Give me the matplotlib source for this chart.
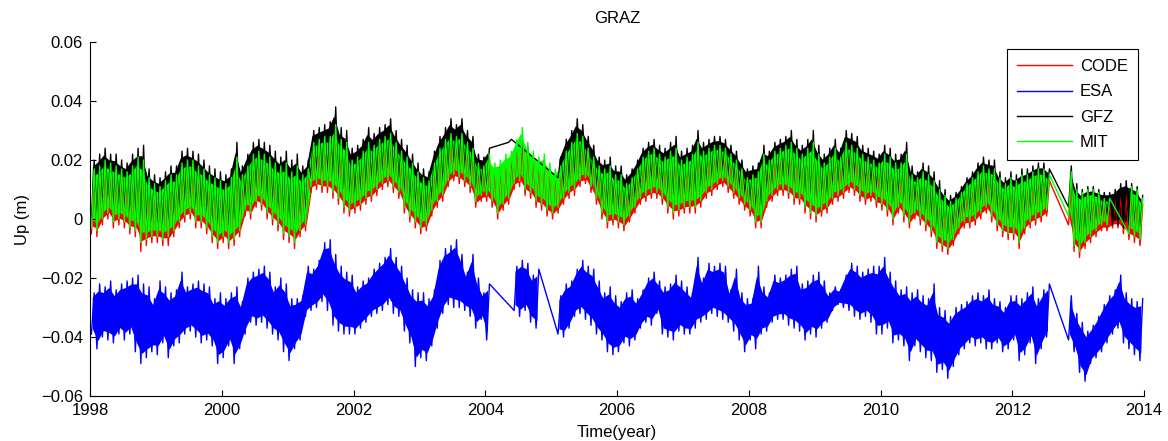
import matplotlib
matplotlib.use('Agg')
import matplotlib.pyplot as plt
from matplotlib.ticker import FuncFormatter
from matplotlib.lines import Line2D

N = None
start_year = 1998
# Monthly envelopes (mm), Jan 1998 .. Dec 2013, one row per year; None = no data
code_lo = [
    -5, -6, -2, 0, -3, -2, -3, -5, -6, -11, -9, -8,
    -8, -9, -9, -6, -3, -1, 0, -3, -3, -5, -8, -10,
    -8, -10, -9, -6, 1, 0, 4, 3, 0, -2, -4, -7,
    -8, -10, -6, -4, 9, 10, 9, 9, 7, 5, 2, 1,
    2, 3, 5, 6, 8, 10, 11, 9, 7, 2, -1, -3,
    -5, -4, 1, 4, 6, 11, 13, 12, 11, 9, 4, 6,
    6, 4, 0, 3, 5, 10, 11, 8, 7, 4, 3, 1,
    0, 2, 5, 7, 8, 11, 12, 9, 5, 0, -3, -2,
    -3, -4, -1, 2, 5, 6, 7, 7, 5, 2, 0, 1,
    2, 2, 2, 4, 7, 8, 10, 11, 9, 7, 5, 3,
    1, -3, -3, 4, 6, 8, 8, 7, 5, 5, 2, 0,
    -1, 1, 2, 5, 6, 7, 9, 8, 6, 5, 6, 4,
    3, 1, -2, 2, -1, -3, 0, -2, -4, -6, -10, -11,
    -12, -9, -5, -3, -3, -2, 0, 2, -1, -4, -6, -7,
    -7, -10, -5, -3, -2, -1, 1, N, N, N, -2, -11,
    -13, -10, -8, -6, -4, -4, -3, -3, -5, -7, -8, -9,
]
code_hi = [
    15, 16, 18, 17, 16, 15, 14, 16, 19, 18, 12, 10,
    9, 11, 13, 13, 17, 18, 18, 16, 15, 13, 12, 11,
    10, 12, 19, 13, 16, 20, 21, 20, 19, 17, 16, 17,
    14, 16, 13, 15, 24, 25, 26, 26, 30, 25, 24, 18,
    19, 21, 24, 23, 25, 26, 27, 24, 21, 19, 17, 14,
    12, 11, 17, 22, 25, 27, 26, 27, 24, 22, 17, 16,
    20, 17, 18, 20, 21, 25, 26, 24, 21, 19, 20, 17,
    15, 16, 21, 24, 27, 26, 22, 19, 16, 15, 16, 13,
    13, 10, 12, 15, 19, 21, 22, 20, 19, 21, 22, 18,
    19, 20, 24, 21, 22, 23, 23, 22, 20, 18, 15, 12,
    13, 14, 20, 18, 21, 22, 23, 24, 22, 20, 22, 24,
    20, 17, 19, 22, 19, 24, 23, 22, 20, 19, 18, 17,
    20, 19, 17, 17, 20, 13, 12, 14, 13, 11, 8, 6,
    4, 5, 7, 10, 12, 14, 16, 15, 15, 12, 10, 12,
    11, 13, 13, 14, 15, 15, 13, N, N, N, 14, 8,
    7, 8, 8, 7, 5, 5, 7, 8, 9, 9, 8, 5,
]
esa_lo = [
    -39, -44, -40, -41, -42, -39, -41, -39, -45, -49, -47, -45,
    -46, -42, -47, -43, -42, -39, -38, -40, -42, -41, -43, -49,
    -47, -43, -49, -44, -39, -35, -36, -35, -37, -39, -41, -45,
    -48, -44, -41, -33, -31, -30, -28, -31, -36, -38, -39, -39,
    -39, -37, -35, -33, -32, -31, -29, -32, -33, -38, -42, -50,
    -47, -48, -43, -37, -32, -29, -30, -30, -31, -33, -37, -34,
    -41, N, N, N, N, -31, -33, -31, -35, -37, N, N,
    N, -39, -40, -37, -33, -32, -34, -36, -39, -41, -45, -46,
    -45, -42, -43, -41, -37, -35, -36, -32, -39, -40, -41, -38,
    -39, -39, -37, -35, -34, -32, -33, -34, -35, -38, -41, -45,
    -41, -44, -39, -38, -35, -34, -34, -36, -37, -38, -41, -39,
    -40, -37, -35, -31, -29, -30, -31, -33, -34, -33, -35, -39,
    -39, -37, -42, -41, -43, -48, -43, -45, -47, -48, -52, -51,
    -54, -50, -46, -44, -42, -43, -42, -44, -44, -42, -45, -44,
    -41, -48, -46, -42, -49, -44, -40, N, N, N, -41, -45,
    -52, -55, -49, -47, -45, -42, -39, -37, -42, -44, -46, -48,
]
esa_hi = [
    -25, -22, -23, -21, -24, -22, -21, -20, -19, -22, -23, -27,
    -21, -23, -25, -24, -18, -23, -22, -21, -22, -23, -27, -25,
    -27, -25, -23, -28, -20, -18, -17, -16, -18, -23, -20, -22,
    -27, -27, -26, -16, -17, -14, -8, -7, -12, -16, -18, -19,
    -23, -21, -20, -17, -15, -13, -10, -13, -16, -20, -24, -25,
    -25, -27, -24, -14, -10, -9, -7, -12, -18, -12, -20, -25,
    -22, N, N, N, N, -16, -14, -15, -19, -17, N, N,
    N, -26, -22, -21, -17, -14, -16, -17, -21, -25, -23, -26,
    -28, -25, -24, -27, -24, -20, -18, -21, -23, -22, -19, -21,
    -23, -25, -13, -20, -15, -16, -15, -16, -24, -17, -25, -27,
    -27, -16, -23, -25, -19, -20, -19, -17, -16, -22, -21, -19,
    -18, -21, -25, -23, -24, -19, -15, -16, -18, -17, -16, -16,
    -13, -18, -21, -24, -23, -25, -24, -26, -27, -22, -30, -31,
    -33, -30, -29, -28, -26, -25, -26, -24, -27, -28, -30, -26,
    -26, -27, -25, -23, -27, -24, -22, N, N, N, -26, -32,
    -35, -38, -36, -33, -29, -26, -24, -19, -25, -27, -28, -27,
]
gfz_lo = [
    0, -1, 3, 5, 2, 3, 2, 0, -1, -5, -4, -3,
    -3, -4, -3, -1, 2, 4, 5, 2, 2, 0, -3, -5,
    -3, -5, -4, -1, 6, 5, 9, 8, 5, 3, 1, -2,
    -3, -5, -1, 1, 14, 15, 14, 14, 12, 10, 7, 6,
    7, 8, 10, 11, 13, 15, 16, 14, 12, 7, 4, 2,
    0, 1, 6, 9, 11, 16, 18, 17, 16, 14, 9, 11,
    10, N, N, N, 26, N, N, N, N, N, N, N,
    N, 14, 10, 12, 13, 16, 17, 14, 10, 5, 2, 3,
    2, 1, 4, 7, 10, 11, 12, 12, 10, 7, 5, 6,
    7, 7, 7, 9, 12, 13, 15, 16, 14, 12, 10, 8,
    6, 2, 2, 9, 11, 13, 13, 12, 10, 10, 7, 5,
    4, 6, 7, 10, 11, 12, 14, 13, 11, 10, 11, 9,
    8, 6, 3, 7, 4, 2, 5, 3, 1, -1, -5, -6,
    -7, -4, 0, 2, 2, 3, 5, 7, 4, 1, -1, -2,
    -2, -5, 0, 2, 3, 4, 6, N, N, N, 4, -6,
    -8, -5, -3, -1, 1, 1, -2, -2, -3, -2, -3, -4,
]
gfz_hi = [
    20, 22, 24, 22, 22, 20, 19, 22, 24, 25, 17, 15,
    14, 16, 18, 18, 23, 24, 23, 22, 20, 18, 17, 16,
    15, 17, 26, 18, 22, 26, 27, 26, 25, 23, 21, 23,
    20, 22, 18, 20, 30, 31, 32, 33, 38, 31, 30, 24,
    25, 27, 31, 29, 31, 32, 34, 30, 27, 25, 22, 19,
    17, 16, 23, 28, 31, 34, 32, 34, 30, 28, 22, 21,
    24, N, N, N, 27, N, N, N, N, N, N, N,
    N, 21, 27, 30, 34, 32, 28, 25, 21, 20, 21, 18,
    18, 15, 17, 20, 24, 26, 27, 25, 24, 26, 28, 23,
    24, 25, 30, 26, 27, 28, 28, 27, 25, 23, 20, 17,
    18, 19, 25, 23, 26, 27, 28, 30, 27, 25, 27, 30,
    25, 22, 24, 27, 24, 30, 29, 28, 25, 24, 23, 22,
    25, 24, 22, 22, 26, 18, 16, 19, 18, 16, 13, 10,
    8, 9, 11, 14, 16, 19, 21, 20, 20, 16, 14, 16,
    15, 17, 17, 18, 19, 19, 17, N, N, N, 18, 12,
    10, 11, 11, 10, 9, 9, 10, 12, 13, 12, 11, 8,
]
mit_lo = [
    -3, -4, 0, 2, -1, 0, -1, -3, -4, -8, -7, -6,
    -6, -7, -6, -4, -1, 1, 2, -1, -1, -3, -6, -8,
    -6, -8, -7, -4, 3, 2, 6, 5, 2, 0, -2, -5,
    -6, -8, -4, -2, 11, 12, 11, 11, 9, 7, 4, 3,
    4, 5, 7, 8, 10, 12, 13, 11, 9, 4, 1, -1,
    -3, -2, 3, 6, 8, 13, 15, 14, 13, 11, 6, 8,
    8, 6, 2, 5, 7, 12, 13, 10, 9, 6, 5, 3,
    2, 4, 7, 9, 10, 13, 14, 11, 7, 2, -1, 0,
    -1, -2, 1, 4, 7, 8, 9, 9, 7, 4, 2, 3,
    4, 4, 4, 6, 9, 10, 12, 13, 11, 9, 7, 5,
    3, -1, -1, 6, 8, 10, 10, 9, 7, 7, 4, 2,
    1, 3, 4, 7, 8, 9, 11, 10, 8, 7, 8, 6,
    5, 3, 0, 4, 1, -1, 2, 0, -2, -4, -8, -9,
    -10, -7, -3, -1, -1, 0, 2, 4, 1, -2, -4, -5,
    -5, -8, -3, -1, 0, 1, 3, N, N, N, 1, -9,
    -11, -8, -6, -4, -2, -2, N, N, N, -5, -6, -7,
]
mit_hi = [
    17, 18, 20, 19, 18, 17, 16, 18, 21, 20, 14, 12,
    11, 13, 15, 15, 19, 20, 20, 18, 17, 15, 14, 13,
    12, 14, 21, 15, 18, 22, 23, 22, 21, 19, 18, 19,
    16, 18, 15, 17, 26, 27, 28, 28, 32, 27, 26, 20,
    21, 23, 26, 25, 27, 28, 29, 26, 23, 21, 19, 16,
    14, 13, 19, 24, 27, 29, 28, 29, 26, 24, 19, 18,
    22, 19, 20, 22, 23, 27, 31, 26, 23, 21, 22, 19,
    17, 18, 23, 26, 29, 28, 24, 21, 18, 17, 18, 15,
    15, 12, 14, 17, 21, 23, 24, 22, 21, 23, 24, 20,
    21, 22, 26, 23, 24, 25, 25, 24, 22, 20, 17, 14,
    15, 16, 22, 20, 23, 24, 25, 26, 24, 22, 24, 26,
    22, 19, 21, 24, 21, 26, 25, 24, 22, 21, 20, 19,
    22, 21, 19, 19, 22, 15, 14, 16, 15, 13, 10, 8,
    6, 7, 9, 12, 14, 16, 18, 17, 17, 14, 12, 14,
    13, 15, 15, 16, 17, 17, 15, N, N, N, 16, 10,
    9, 10, 10, 9, 7, 7, N, N, N, 11, 10, 7,
]

series = [
    ("CODE", code_lo, code_hi, (1, 0, 0)),
    ("ESA", esa_lo, esa_hi, (0, 0, 1)),
    ("GFZ", gfz_lo, gfz_hi, (0, 0, 0)),
    ("MIT", mit_lo, mit_hi, (0, 1, 0)),
]
core = 0.12  # fraction of each month's range left to the spiky edges


def build(lo, hi):
    xs, ys, segs, cur = [], [], [], []
    for m, (a, b) in enumerate(zip(lo, hi)):
        if a is None or b is None:
            if cur:
                segs.append(cur)
                cur = []
            continue
        xs += [start_year + (m + 0.25) / 12, start_year + (m + 0.75) / 12]
        ys += [a / 1000.0, b / 1000.0]
        cur.append((start_year + (m + 0.5) / 12, a / 1000.0, b / 1000.0))
    if cur:
        segs.append(cur)
    return xs, ys, segs


plt.rcParams['font.family'] = ['Liberation Sans', 'DejaVu Sans']
fig = plt.figure(figsize=(11.68, 4.41), dpi=100)
ax = fig.add_axes([0.0771, 0.102, 0.9024, 0.8027])

handles = []
for name, lo, hi, col in series:
    xs, ys, segs = build(lo, hi)
    for seg in segs:
        if len(seg) < 2:
            continue
        sx = [p[0] for p in seg]
        slo = [p[1] + core * (p[2] - p[1]) for p in seg]
        shi = [p[2] - core * (p[2] - p[1]) for p in seg]
        ax.fill_between(sx, slo, shi, facecolor=col, edgecolor='none', lw=0)
    ax.plot(xs, ys, color=col, lw=1.0)
    handles.append(Line2D([], [], color=col, lw=1.0, label=name))

ax.set_xlim(1998, 2014)
ax.set_ylim(-0.06, 0.06)
ax.set_xticks(range(1998, 2015, 2))
ax.set_yticks([-0.06, -0.04, -0.02, 0, 0.02, 0.04, 0.06])


def yfmt(v, pos):
    if abs(v) < 1e-9:
        return "0"
    s = f"{v:.2f}"
    return s.replace("-", "\u2212")


ax.yaxis.set_major_formatter(FuncFormatter(yfmt))
ax.spines['top'].set_visible(False)
ax.spines['right'].set_visible(False)
for s in ('left', 'bottom'):
    ax.spines[s].set_linewidth(0.8)
ax.tick_params(direction='in', length=4, width=0.8, labelsize=12, pad=5)

ax.set_title("GRAZ", fontsize=12, pad=14)
ax.set_xlabel("Time(year)", fontsize=12, labelpad=5)
ax.set_ylabel("Up (m)", fontsize=12, labelpad=8)

leg = ax.legend(handles=handles, loc='upper right', bbox_to_anchor=(0.9943, 0.98),
                borderaxespad=0, fontsize=12, handlelength=3.3, labelspacing=0.62,
                fancybox=False, framealpha=1, edgecolor='black', borderpad=0.6,
                handletextpad=0.5)
leg.get_frame().set_linewidth(0.8)

fig.savefig("out.png", dpi=100)
